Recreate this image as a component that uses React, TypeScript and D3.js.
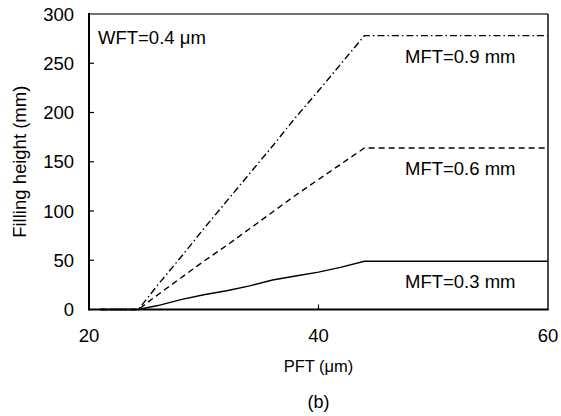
import React from "react";
import * as d3 from "d3";

const pft09 = [21, 24.3, 26, 28, 30, 32, 34, 36, 38, 40, 42, 44, 60];
const fh09 = [0, 0, 25, 53, 82, 110, 138, 166, 195, 222, 250, 278, 278];
const pft06 = [21, 24.3, 26, 28, 30, 32, 34, 36, 38, 40, 42, 44, 60];
const fh06 = [0, 0, 15, 32, 49, 65, 82, 99, 116, 132, 148, 164, 164];
const pft03 = [21, 24.3, 26, 28, 30, 32, 34, 36, 38, 40, 42, 44, 60];
const fh03 = [0, 0, 4, 10, 15, 19, 24, 30, 34, 38, 43, 49, 49];

const xTicks = [20, 40, 60];
const yTicks = [0, 50, 100, 150, 200, 250, 300];

const seriesLabels = ["MFT=0.9 mm", "MFT=0.6 mm", "MFT=0.3 mm"];
const labelValues = [278, 164, 49];

export default function App() {
  const W = 561, H = 416;
  const x = d3.scaleLinear().domain([20, 60]).range([89, 548]);
  const y = d3.scaleLinear().domain([0, 300]).range([309.5, 14]);
  const line = d3
    .line<[number, number]>()
    .x((d) => x(d[0]))
    .y((d) => y(d[1]));
  const mk = (xs: number[], ys: number[]) => xs.map((v, i) => [v, ys[i]] as [number, number]);
  const font = "'Liberation Sans', Arial, sans-serif";
  const series = [
    { d: mk(pft09, fh09), dash: "7,3,1.5,3" },
    { d: mk(pft06, fh06), dash: "6,4" },
    { d: mk(pft03, fh03), dash: "none" },
  ];
  const [x0, x1] = x.range();
  const [y0, y1] = y.range();
  return (
    <svg
      width={W}
      height={H}
      style={{ position: "absolute", left: 0, top: 0, background: "#fff" }}
      fontFamily={font}
    >
      <rect x={0} y={0} width={W} height={H} fill="#fff" />
      {series.map((s, i) => (
        <path
          key={i}
          d={line(s.d) || ""}
          fill="none"
          stroke="#000"
          strokeWidth={1.4}
          strokeDasharray={s.dash}
        />
      ))}
      {/* frame */}
      <line x1={x0} x2={x1} y1={y1} y2={y1} stroke="#707070" strokeWidth={2} />
      <line x1={x1} x2={x1} y1={y1} y2={y0} stroke="#111" strokeWidth={1.5} />
      <line x1={x0} x2={x1 + 0.75} y1={y0} y2={y0} stroke="#000" strokeWidth={2} />
      <line x1={x0} x2={x0} y1={y1 - 1} y2={y0 + 1} stroke="#000" strokeWidth={2} />
      {/* y ticks */}
      {yTicks.map((t) => (
        <g key={t}>
          {t > 0 && t < 300 && (
            <line x1={x0} x2={x0 + 5} y1={y(t)} y2={y(t)} stroke="#000" strokeWidth={1.2} />
          )}
          <text x={74} y={y(t)} dy="0.36em" textAnchor="end" fontSize={18.5} fill="#000">
            {t}
          </text>
        </g>
      ))}
      {/* x ticks */}
      {xTicks.map((t) => (
        <g key={t}>
          {t > 20 && t < 60 && (
            <line x1={x(t)} x2={x(t)} y1={y0} y2={y0 - 5} stroke="#000" strokeWidth={1.2} />
          )}
          <text x={x(t)} y={342} textAnchor="middle" fontSize={18.5} fill="#000">
            {t}
          </text>
        </g>
      ))}
      <text x={(x0 + x1) / 2} y={372} textAnchor="middle" fontSize={16.5} fill="#000">
        PFT (μm)
      </text>
      <text x={(x0 + x1) / 2} y={408} textAnchor="middle" fontSize={18} fill="#000">
        (b)
      </text>
      <text
        transform={`translate(26,${(y0 + y1) / 2}) rotate(-90)`}
        textAnchor="middle"
        fontSize={18.5}
        fill="#000"
      >
        Filling height (mm)
      </text>
      <text x={98} y={44} fontSize={18.5} fill="#000">
        WFT=0.4 μm
      </text>
      {seriesLabels.map((l, i) => (
        <text key={l} x={405} y={y(labelValues[i]) + 27} fontSize={18.5} fill="#000">
          {l}
        </text>
      ))}
    </svg>
  );
}
